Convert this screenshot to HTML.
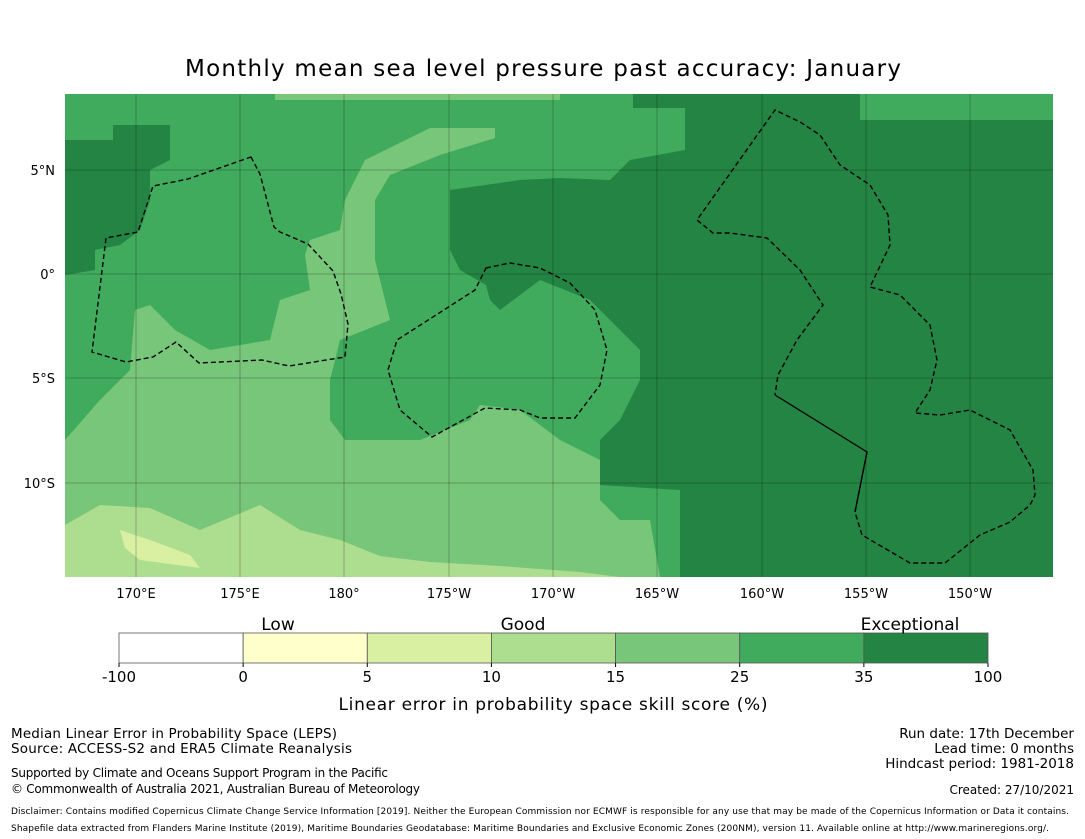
<!DOCTYPE html>
<html><head><meta charset="utf-8"><style>
body{margin:0;background:#fff;}
svg{display:block;font-family:"DejaVu Sans","Liberation Sans",sans-serif;}
</style></head><body>
<svg width="1085" height="839" viewBox="0 0 1085 839">
<text x="543" y="76" text-anchor="middle" font-size="23" textLength="716">Monthly mean sea level pressure past accuracy: January</text>
<defs><clipPath id="mc"><rect x="65" y="94" width="988" height="483"/></clipPath></defs>
<g clip-path="url(#mc)">
<rect x="65" y="94" width="988" height="483" fill="#41ab5d"/>
<polygon fill="#78c679" points="65,440 100,400 130,370 135,310 150,305 175,330 210,350 270,340 280,300 310,290 305,255 310,240 340,230 345,200 365,160 430,128 495,128 495,138 440,155 390,175 375,200 375,260 390,320 340,340 330,380 330,420 345,440 420,440 470,420 480,405 520,410 560,440 600,460 600,500 620,520 650,520 660,577 65,577"/>
<polygon fill="#78c679" points="275,94 560,94 560,100 275,100"/>
<polygon fill="#addd8e" points="65,525 100,505 150,508 200,530 260,505 300,530 340,540 380,556 430,562 500,566 580,572 620,577 65,577"/>
<polygon fill="#d9f0a3" points="120,530 150,540 190,555 200,568 140,560 125,548"/>
<polygon fill="#238443" points="65,140 113,140 113,125 170,125 170,160 150,170 150,200 140,230 120,245 95,250 95,270 65,275"/>
<polygon fill="#238443" points="450,190 520,180 560,178 610,180 630,160 685,150 685,108 633,108 633,94 860,94 860,120 1053,120 1053,577 680,577 680,490 600,485 600,440 620,420 640,380 640,350 620,330 590,300 540,280 500,310 490,300 486,285 460,270 450,250"/>
<g stroke="#000" stroke-opacity="0.3" stroke-width="0.8">
<line x1="136" y1="94" x2="136" y2="577"/><line x1="240" y1="94" x2="240" y2="577"/><line x1="344" y1="94" x2="344" y2="577"/><line x1="449" y1="94" x2="449" y2="577"/><line x1="553" y1="94" x2="553" y2="577"/><line x1="657" y1="94" x2="657" y2="577"/><line x1="762" y1="94" x2="762" y2="577"/><line x1="866" y1="94" x2="866" y2="577"/><line x1="970" y1="94" x2="970" y2="577"/>
<line x1="65" y1="170" x2="1053" y2="170"/><line x1="65" y1="274" x2="1053" y2="274"/><line x1="65" y1="378" x2="1053" y2="378"/><line x1="65" y1="483" x2="1053" y2="483"/>
</g>
<g fill="none" stroke="#000" stroke-width="1.4" stroke-dasharray="5,3">
<polygon points="251,157 260,174 274,227 280,232 308,244 333,271 341,294 348,324 345,357 289,366 262,360 199,363 176,342 153,357 126,362 92,352 106,238 138,232 153,186 188,179"/>
<polygon points="486,268 510,263 540,268 570,283 595,310 607,350 600,385 575,418 540,418 520,410 485,408 432,437 400,410 388,370 397,340 475,290"/>
<polyline points="867,452 855,512 862,535 910,563 945,563 980,535 1010,522 1030,505 1035,495 1033,470 1010,430 970,410 940,415 915,413 930,390 937,360 930,325 900,295 870,287 890,245 888,215 870,185 840,165 820,135 800,122 775,110 697,220 713,233 730,233 767,238 800,270 823,305 797,340 778,375 775,395"/>
</g>
<polyline fill="none" stroke="#000" stroke-width="1.3" points="775,395 867,452 855,512"/>
</g>
<g font-size="13" text-anchor="middle">
<text x="136" y="598">170°E</text><text x="240" y="598">175°E</text><text x="344" y="598">180°</text><text x="449" y="598">175°W</text><text x="553" y="598">170°W</text><text x="657" y="598">165°W</text><text x="762" y="598">160°W</text><text x="866" y="598">155°W</text><text x="970" y="598">150°W</text>
</g>
<g font-size="13" text-anchor="end">
<text x="55" y="175">5°N</text><text x="55" y="279">0°</text><text x="55" y="383">5°S</text><text x="55" y="488">10°S</text>
</g>
<g id="cbar"></g>
<g font-size="17" text-anchor="middle">
<text x="278" y="630">Low</text><text x="523" y="630">Good</text><text x="910" y="630">Exceptional</text>
</g>
<text x="553" y="710" font-size="17" text-anchor="middle" textLength="429">Linear error in probability space skill score (%)</text>
<g font-size="13.5">
<text x="11" y="738" textLength="326">Median Linear Error in Probability Space (LEPS)</text>
<text x="11" y="753" textLength="341">Source: ACCESS-S2 and ERA5 Climate Reanalysis</text>
<text x="11" y="777" font-size="12" textLength="377">Supported by Climate and Oceans Support Program in the Pacific</text>
<text x="11" y="793" font-size="12" textLength="409">© Commonwealth of Australia 2021, Australian Bureau of Meteorology</text>
</g>
<g font-size="13.5" text-anchor="end">
<text x="1074" y="738">Run date: 17th December</text>
<text x="1074" y="753">Lead time: 0 months</text>
<text x="1074" y="768">Hindcast period: 1981-2018</text>
<text x="1074" y="794" font-size="12">Created: 27/10/2021</text>
</g>
<g font-size="9">
<text x="11" y="814" textLength="1058">Disclaimer: Contains modified Copernicus Climate Change Service Information [2019]. Neither the European Commission nor ECMWF is responsible for any use that may be made of the Copernicus Information or Data it contains.</text>
<text x="11" y="831" textLength="1038">Shapefile data extracted from Flanders Marine Institute (2019), Maritime Boundaries Geodatabase: Maritime Boundaries and Exclusive Economic Zones (200NM), version 11. Available online at http://www.marineregions.org/.</text>
</g>
</svg>
<script>
const cbTicks = ['-100','0','5','10','15','25','35','100'];
const cbColors = ['#ffffff','#ffffcc','#d9f0a3','#addd8e','#78c679','#41ab5d','#238443'];
const g = document.getElementById('cbar');
const NS = 'http://www.w3.org/2000/svg';
const x0 = 119, x1 = 988, y0 = 633, h = 30;
const w = (x1 - x0) / cbColors.length;
cbColors.forEach((c, i) => {
  const r = document.createElementNS(NS, 'rect');
  r.setAttribute('x', x0 + i * w); r.setAttribute('y', y0);
  r.setAttribute('width', w); r.setAttribute('height', h);
  r.setAttribute('fill', c); r.setAttribute('stroke', '#555'); r.setAttribute('stroke-width', '0.8');
  
  
  g.appendChild(r);
});
cbTicks.forEach((t, i) => {
  const tx = document.createElementNS(NS, 'text');
  tx.setAttribute('x', x0 + i * w); tx.setAttribute('y', 682);
  tx.setAttribute('text-anchor', 'middle'); tx.setAttribute('font-size', '15');
  tx.textContent = t;
  
  
  g.appendChild(tx);
  const ln = document.createElementNS(NS, 'line');
  ln.setAttribute('x1', x0 + i * w); ln.setAttribute('x2', x0 + i * w);
  ln.setAttribute('y1', y0 + h); ln.setAttribute('y2', y0 + h + 4);
  ln.setAttribute('stroke', '#000');
  
  
  g.appendChild(ln);
});
</script>
</body></html>
